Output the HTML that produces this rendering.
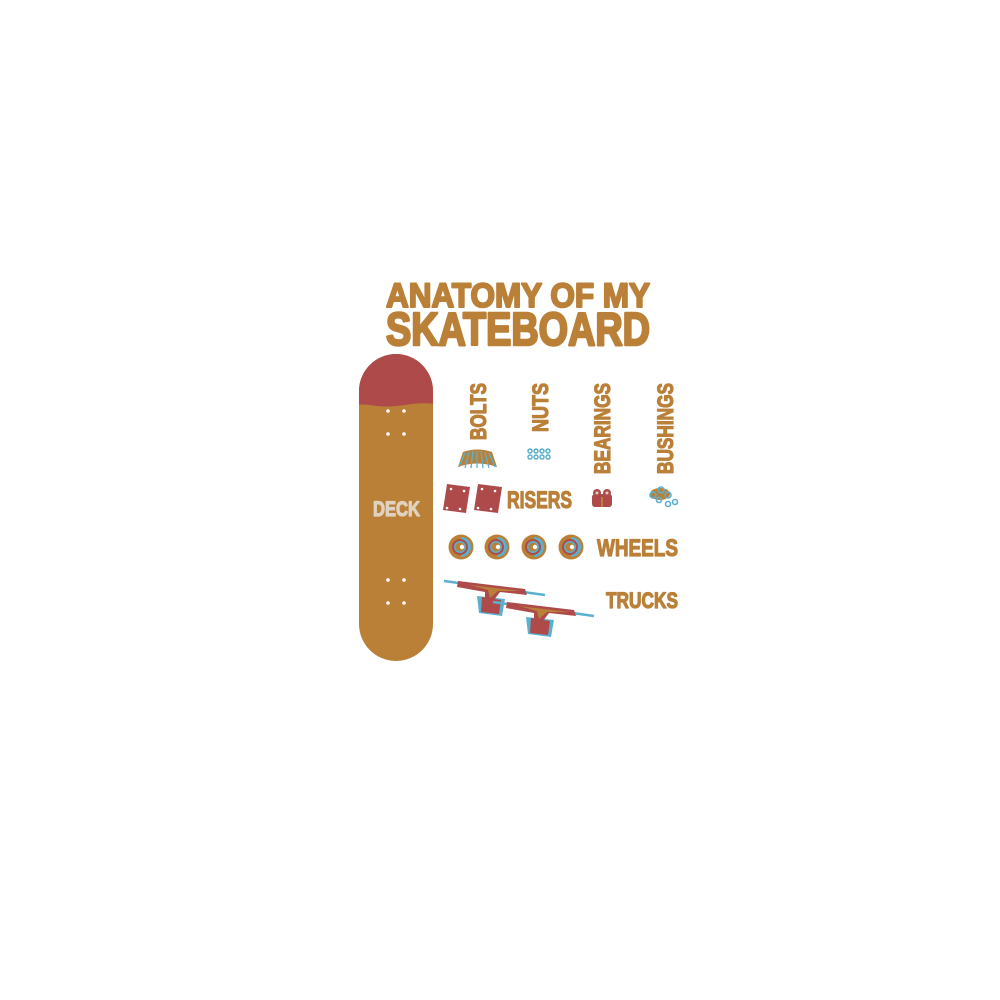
<!DOCTYPE html>
<html><head><meta charset="utf-8"><style>
html,body{margin:0;padding:0;background:#fff;width:1000px;height:1000px;overflow:hidden}
svg{display:block}
text{font-family:"Liberation Sans",sans-serif;font-weight:bold;fill:#BA8038;stroke:#BA8038;stroke-width:1.2;stroke-linejoin:round}
</style></head><body>
<svg width="1000" height="1000" viewBox="0 0 1000 1000">
<text x="386" y="307" font-size="34" textLength="264" lengthAdjust="spacingAndGlyphs" style="stroke-width:2">ANATOMY OF MY</text>
<text x="386" y="345" font-size="46" textLength="264" lengthAdjust="spacingAndGlyphs" style="stroke-width:2.5">SKATEBOARD</text>
<defs><clipPath id="dk"><rect x="359" y="354" width="74" height="307" rx="37" ry="37"/></clipPath></defs>
<rect x="359" y="354" width="74" height="307" rx="37" ry="37" fill="#BA8038"/>
<path clip-path="url(#dk)" d="M355 350 H437 V404 Q420 402 405 405 Q385 408 370 405 Q362 404 355 405 Z" fill="#AE4B4A"/>
<g fill="#fff"><circle cx="388" cy="411" r="1.8"/><circle cx="404" cy="411" r="1.8"/><circle cx="388" cy="434" r="1.8"/><circle cx="404" cy="434" r="1.8"/>
<circle cx="388" cy="580" r="1.8"/><circle cx="404" cy="580" r="1.8"/><circle cx="388" cy="603" r="1.8"/><circle cx="404" cy="603" r="1.8"/></g>
<text x="373" y="516" font-size="21" textLength="47" lengthAdjust="spacingAndGlyphs" style="fill:#E0D2BE;stroke:#E0D2BE">DECK</text>
<text transform="translate(486,440) rotate(-90)" font-size="22" textLength="57" lengthAdjust="spacingAndGlyphs">BOLTS</text>
<text transform="translate(548,432) rotate(-90)" font-size="22" textLength="49" lengthAdjust="spacingAndGlyphs">NUTS</text>
<text transform="translate(610,474) rotate(-90)" font-size="22" textLength="91" lengthAdjust="spacingAndGlyphs">BEARINGS</text>
<text transform="translate(673,474) rotate(-90)" font-size="22" textLength="91" lengthAdjust="spacingAndGlyphs">BUSHINGS</text>
<path d="M463 452 Q477 447 492 452 L497 467 Q477 460 458 467 Z" fill="#BA8038"/>
<g stroke="#5BB0D0" stroke-width="1.3">
<line x1="465" y1="453" x2="459" y2="467"/><line x1="469" y1="452" x2="465" y2="468"/><line x1="473" y1="451" x2="471" y2="468"/><line x1="477" y1="451" x2="477" y2="468"/><line x1="481" y1="451" x2="483" y2="468"/><line x1="485" y1="452" x2="489" y2="468"/><line x1="489" y1="453" x2="495" y2="467"/></g>
<g fill="none" stroke="#5BB0D0" stroke-width="1.5">
<circle cx="530" cy="451" r="2"/><circle cx="536" cy="451" r="2"/><circle cx="542" cy="451" r="2"/><circle cx="548" cy="451" r="2"/>
<circle cx="530" cy="457" r="2"/><circle cx="536" cy="457" r="2"/><circle cx="542" cy="457" r="2"/><circle cx="548" cy="457" r="2"/></g>
<g fill="#AE4B4A"><path d="M447 484 L470 487 L466 513 L443 510 Z"/><path d="M478 484 L502 487 L498 513 L474 510 Z"/></g>
<g fill="#fff"><circle cx="451" cy="489" r="1.3"/><circle cx="464" cy="491" r="1.3"/><circle cx="447" cy="508" r="1.3"/><circle cx="460" cy="509" r="1.3"/>
<circle cx="482" cy="489" r="1.3"/><circle cx="495" cy="491" r="1.3"/><circle cx="478" cy="508" r="1.3"/><circle cx="491" cy="509" r="1.3"/></g>
<text x="507" y="508" font-size="24" textLength="65" lengthAdjust="spacingAndGlyphs">RISERS</text>
<rect x="592" y="494" width="20" height="13" rx="3" fill="#AE4B4A"/>
<circle cx="597" cy="493" r="4" fill="#AE4B4A"/><circle cx="607" cy="493" r="4" fill="#AE4B4A"/>
<circle cx="597" cy="493" r="1.5" fill="#E0D2BE"/><circle cx="607" cy="493" r="1.5" fill="#E0D2BE"/>
<rect x="601" y="497" width="2" height="10" fill="#BA8038"/>
<ellipse cx="660" cy="494" rx="10" ry="6" fill="#BA8038"/>
<g fill="none" stroke="#5BB0D0" stroke-width="1.6"><circle cx="653" cy="495" r="3"/><circle cx="661" cy="490" r="3"/><circle cx="668" cy="495" r="3"/><circle cx="659" cy="500" r="2.5"/><circle cx="668" cy="504" r="2.5"/><circle cx="675" cy="502" r="2.5"/></g>
<g id="w">
<circle cx="461" cy="547" r="12.5" fill="#BA8038"/>
<path d="M461 537 A10 10 0 0 1 461 557 Z" fill="#5BB0D0"/>
<circle cx="460" cy="547" r="8" fill="#AE4B4A"/>
<circle cx="460" cy="547" r="6" fill="#5BB0D0"/>
<circle cx="460" cy="547" r="4.5" fill="#BA8038"/>
<circle cx="462" cy="547" r="2.2" fill="#fff"/>
</g>
<use href="#w" x="36"/><use href="#w" x="73"/><use href="#w" x="110"/>
<text x="597" y="556" font-size="24" textLength="81" lengthAdjust="spacingAndGlyphs">WHEELS</text>
<g id="t">
<line x1="444" y1="581" x2="545" y2="595" stroke="#5BB0D0" stroke-width="2.5"/>
<path d="M477 596 L505 599 L502 616 L479 613 Z" fill="#5BB0D0"/>
<path d="M482 597 L501 600 L499 614 L481 612 Z" fill="#AE4B4A"/>
<path d="M458 581 L525 589 L527 595 L500 592 L494 600 L485 599 L485 592 L457 587 Z" fill="#AE4B4A"/>
<path d="M470 585 L520 591 L498 591 L490 598 L488 590 Z" fill="#BA8038"/>
</g>
<use href="#t" x="49" y="21"/>
<text x="606" y="608" font-size="22" textLength="72" lengthAdjust="spacingAndGlyphs">TRUCKS</text>
</svg>
</body></html>
